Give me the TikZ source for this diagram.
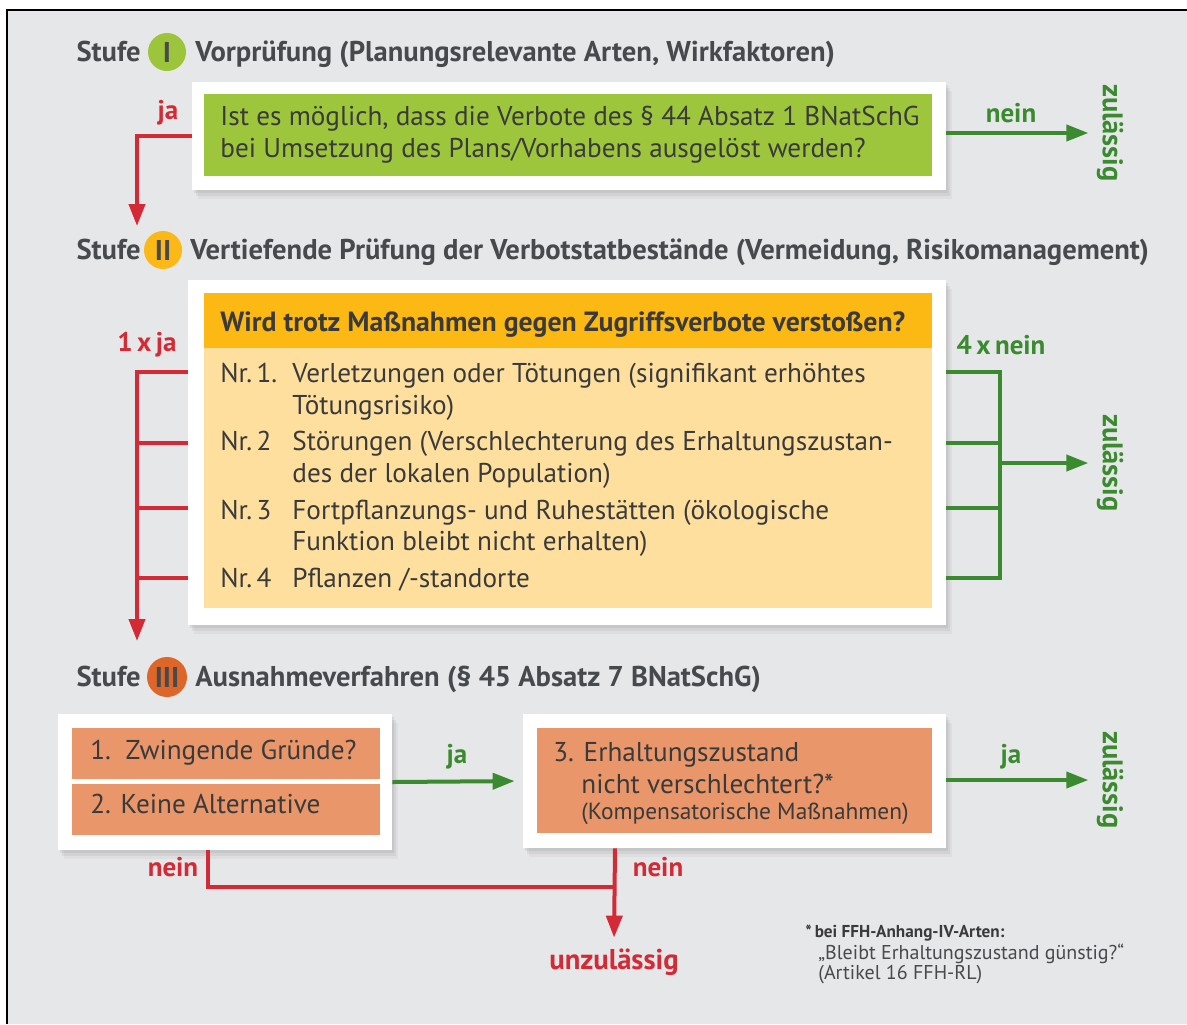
\documentclass[tikz,border=0pt]{standalone}
\usepackage{fontspec}
\setmainfont{PT Sans}
\usetikzlibrary{positioning,fit,shadows,arrows.meta,calc}
\definecolor{bgGray}{HTML}{E6E7E9}
\definecolor{txtDark}{HTML}{3A3A3A}
\definecolor{headGray}{HTML}{474A4D}
\definecolor{neinRed}{HTML}{D42A35}
\definecolor{jaGreen}{HTML}{3B8A30}
\definecolor{stufeGreen}{HTML}{9CC53B}
\definecolor{stufeYellow}{HTML}{FBB817}
\definecolor{stufeOrange}{HTML}{DD6628}
\definecolor{boxGreen}{HTML}{9DC63C}
\definecolor{boxYellow}{HTML}{FDB913}
\definecolor{boxCream}{HTML}{FEDF9E}
\definecolor{boxOrange}{HTML}{E8966A}
\begin{document}
\begin{tikzpicture}
[x=0.5pt,y=-0.5pt,
  frameBox/.style={fill=white,inner sep=0pt,
    drop shadow={shadow xshift=1pt,shadow yshift=-1.5pt,opacity=.15},
    drop shadow={shadow xshift=2pt,shadow yshift=-3pt,opacity=.12},
    drop shadow={shadow xshift=3pt,shadow yshift=-4.5pt,opacity=.08}},
  innerBox/.style={inner sep=0pt},
  headFont/.style={font=\bfseries\fontsize{14.3}{17}\selectfont,text=headGray},
  stufeText/.style={headFont,anchor=base west,inner sep=0pt},
  stufeDisc/.style={headFont,circle,minimum size=19pt,inner sep=0pt},
  bodyText/.style={anchor=base west,font=\fontsize{13.6}{16}\selectfont,text=txtDark,inner sep=0pt},
  redLine/.style={draw=neinRed,line width=2pt},
  redArrow/.style={redLine,-{Triangle[length=11pt,width=8pt]}},
  greenLine/.style={draw=jaGreen,line width=2pt},
  greenArrow/.style={greenLine,-{Triangle[length=11pt,width=8pt]}},
  redLabel/.style={font=\bfseries\fontsize{13.5}{16}\selectfont,text=neinRed},
  greenLabel/.style={font=\bfseries\fontsize{13.5}{16}\selectfont,text=jaGreen},
  zulText/.style={greenLabel,font=\bfseries\fontsize{14.2}{16}\selectfont,rotate=-90,inner sep=1pt}]
\useasboundingbox (0,0) rectangle (1187,1024);
%% background
\fill[bgGray] (7,10) rectangle (1187,1024);
\draw[black,line width=0.8pt] (7,1024) -- (7,10) -- (1187,10);

%% Stufe I
\node[stufeText,anchor=base east] (s1) at (141,61) {Stufe};
\node[stufeDisc,fill=stufeGreen] (d1) at (167,52) {I};
\node[stufeText] (h1) at (195,61) {Vorprüfung (Planungsrelevante Arten, Wirkfaktoren)};
\node[frameBox,fit={(192,82) (946,190)}] (f1) {};
\node[innerBox,fill=boxGreen,fit={(204,94) (932,176)}] (g1) {};
\node[bodyText] (q1a) at (220,125) {Ist es möglich, dass die Verbote des § 44 Absatz 1 BNatSchG};
\node[bodyText] (q1b) at (220,157) {bei Umsetzung des Plans/Vorhabens ausgelöst werden?};
\node[redLabel] (ja1) at (168,113) {ja};
\node[greenLabel] (nein1) at (1011,113) {nein};
\node[zulText] (z1) at (1110,133) {zulässig};
\coordinate (j1) at (137,226);
\draw[redArrow] (f1.west) -| (j1);
\draw[greenArrow,shorten >=3pt] (f1.east |- z1) -- (z1.south);

%% Stufe II
\node[stufeText,anchor=base east] (s2) at (141,259) {Stufe};
\node[stufeDisc,fill=stufeYellow] (d2) at (163,250) {II};
\node[stufeText] (h2) at (190,259) {Vertiefende Prüfung der Verbotstatbestände (Vermeidung, Risikomanagement)};
\node[frameBox,fit={(188,280) (946,625)}] (f2) {};
\node[innerBox,fill=boxYellow,fit={(204,293) (932,348)}] (y2) {};
\node[innerBox,fill=boxCream,fit={(204,348) (932,608)}] (c2) {};
\node[bodyText,font=\bfseries\fontsize{13.9}{16}\selectfont] (q2) at (220,331) {Wird trotz Maßnahmen gegen Zugriffsverbote verstoßen?};
\foreach \name/\x/\y/\txt in {
  n1/220/382/{Nr.\,1.}, v1a/292/382/{Verletzungen oder Tötungen (signifikant erhöhtes},
  v1b/292/414/{Tötungsrisiko)},
  n2/220/450/{Nr.\,2}, v2a/292/450/{Störungen (Verschlechterung des Erhaltungszustan-},
  v2b/292/482/{des der lokalen Population)},
  n3/220/519/{Nr.\,3}, v3a/292/519/{Fortpflanzungs- und Ruhestätten (ökologische},
  v3b/292/550/{Funktion bleibt nicht erhalten)},
  n4/220/587/{Nr.\,4}, v4a/292/587/{Pflanzen /-standorte}}
{
  \node[bodyText] (\name) at (\x,\y) {\txt};
}
\foreach \k/\y in {1/372,2/443,3/508,4/578}
{
  \coordinate (L\k) at (188,\y);
  \coordinate (R\k) at (946,\y);
}
\node[redLabel] (ja2) at (147,345) {1\,x\,ja};
\node[greenLabel] (nein2) at (1001,345) {4\,x\,nein};
\node[zulText] (z2) at (1110,463) {zulässig};
\coordinate (j2) at (137,641);
\coordinate (gv) at (1000,463);
\draw[redArrow] (L1) -| (j2);
\foreach \k in {2,3,4}
  \draw[redLine] (L\k) -- (L\k -| j2);
\draw[greenLine] (R1) -- (R1 -| gv) -- (R4 -| gv) -- (R4);
\foreach \k in {2,3}
  \draw[greenLine] (R\k) -- (R\k -| gv);
\draw[greenArrow,shorten >=3pt] (gv) -- (z2.south);

%% Stufe III
\node[stufeText,anchor=base east] (s3) at (141,686) {Stufe};
\node[stufeDisc,fill=stufeOrange,minimum size=20pt] (d3) at (167,677) {III};
\node[stufeText] (h3) at (195,686) {Ausnahmeverfahren (§ 45 Absatz 7 BNatSchG)};
\node[frameBox,fit={(58,714) (392,850)}] (f3a) {};
\node[innerBox,fill=boxOrange,fit={(72,728) (380,779)}] (o1) {};
\node[innerBox,fill=boxOrange,fit={(72,784) (380,835)}] (o2) {};
\node[bodyText] (p1) at (90,759) {1.\ \ Zwingende Gründe?};
\node[bodyText] (p2) at (90,813) {2. Keine Alternative};
\node[frameBox,fit={(523,714) (946,848)}] (f3b) {};
\node[innerBox,fill=boxOrange,fit={(537,728) (932,833)}] (o3) {};
\node[bodyText] (p3a) at (553,761) {3. Erhaltungszustand};
\node[bodyText] (p3b) at (581,793) {nicht verschlechtert?*};
\node[bodyText,font=\fontsize{11.7}{13}\selectfont] (p3c) at (581,819) {(Kompensatorische Maßnahmen)};
\node[greenLabel] (ja3) at (457,757) {ja};
\node[greenLabel] (ja4) at (1011,757) {ja};
\node[zulText] (z3) at (1110,780) {zulässig};
\draw[greenArrow,shorten >=4pt] (f3a.east) -- (f3b.west);
\draw[greenArrow,shorten >=3pt] (f3b.east |- z3) -- (z3.south);
\node[redLabel] (nein3) at (173,867) {nein};
\node[redLabel] (nein4) at (658,867) {nein};
\node[font=\bfseries\fontsize{14.3}{16}\selectfont,text=neinRed] (u) at (614,962) {unzulässig};
\coordinate (jn1) at (208,887);
\coordinate (jn2) at (615,887);
\draw[redLine] (f3a.south -| jn1) -- (jn1) -- (jn2);
\draw[redArrow,shorten >=2pt] (f3b.south -| jn2) -- (u.north);

%% footnote
\node[anchor=base west,inner sep=0pt,font=\bfseries\fontsize{8.6}{10}\selectfont,text=txtDark] (fn1) at (805,937) {*\,bei FFH-Anhang-IV-Arten:};
\node[anchor=base west,inner sep=0pt,font=\fontsize{10}{12}\selectfont,text=headGray] (fn2) at (818,959) {„Bleibt Erhaltungszustand günstig?“};
\node[anchor=base west,inner sep=0pt,font=\fontsize{10}{12}\selectfont,text=headGray] (fn3) at (818,979) {(Artikel 16 FFH-RL)};
\end{tikzpicture}
\end{document}
